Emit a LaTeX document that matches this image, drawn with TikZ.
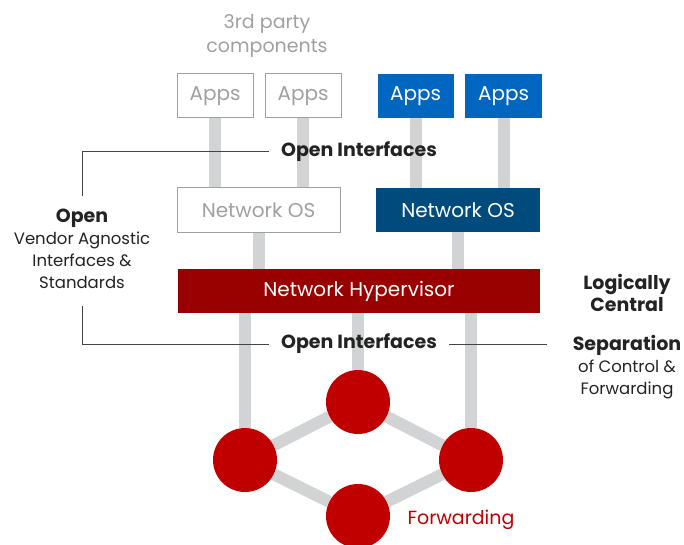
\documentclass[tikz,border=0pt]{standalone}
\usepackage{fontspec}
\setmainfont{Poppins}
\usetikzlibrary{positioning,backgrounds}

\definecolor{appblue}{RGB}{0,102,192}
\definecolor{osblue}{RGB}{0,74,124}
\definecolor{hypred}{RGB}{153,0,0}
\definecolor{fwdred}{RGB}{192,0,0}
\definecolor{bargray}{RGB}{210,211,213}
\definecolor{lighttext}{RGB}{160,160,160}
\definecolor{darktext}{RGB}{35,35,35}

\begin{document}
\begin{tikzpicture}[
  x=1pt, y=-1pt,
  box/.style={minimum height=44pt, inner sep=0pt, font=\fontsize{20}{20}\selectfont},
  thirdbox/.style={box, draw=lighttext, fill=white, text=lighttext, line width=1pt},
  vendorbox/.style={box, fill=#1, text=white},
  bar/.style={draw=bargray, line width=12pt},
  bracket/.style={draw=darktext!85, line width=1pt},
  fnode/.style={circle, fill=fwdred, minimum size=64pt, inner sep=0pt},
  heading/.style={font=\fontsize{19}{22}\selectfont\bfseries, text=darktext, align=center, inner xsep=12pt},
  sidetext/.style={font=\fontsize{16.5}{22}\selectfont, text=darktext, align=center}
]
\useasboundingbox (0,0) rectangle (684,545);

% top row: apps
\node[font=\fontsize{19}{24}\selectfont, text=lighttext, align=center] (party) at (267,36) {3rd party\\components};
\node[thirdbox, minimum width=76pt] (app1) at (215,96) {Apps};
\node[thirdbox, minimum width=76pt, right=11pt of app1] (app2) {Apps};
\node[vendorbox=appblue, minimum width=76pt, right=36pt of app2] (app3) {Apps};
\node[vendorbox=appblue, minimum width=77pt, right=11pt of app3] (app4) {Apps};

% operating systems and hypervisor
\node[thirdbox, minimum width=163pt] (nos1) at (258.5,210) {Network OS};
\node[vendorbox=osblue, minimum width=164pt] (nos2) at (458,210) {Network OS};
\node[vendorbox=hypred, minimum width=362pt] (hyp) at (359,291) {Network Hypervisor};

% forwarding plane
\node[fnode] (ftop) at (358,402) {};
\node[fnode] (fleft) at (245,460) {};
\node[fnode] (fright) at (471,460) {};
\node[fnode] (fbottom) at (358,516) {};
\node[font=\fontsize{19}{19}\selectfont, text=fwdred, anchor=west] (fwd) at (404,520) {Forwarding};

% labels
\node[heading] (oi1) at (359,152) {Open Interfaces};
\node[heading] (oi2) at (359,344) {Open Interfaces};
\node[sidetext] (open) at (82,249) {\textbf{\fontsize{19}{22}\selectfont Open}\\Vendor Agnostic\\Interfaces \&\\Standards};
\node[heading] (central) at (627,293) {Logically\\Central};
\node[sidetext] (sep) at (627,367) {\textbf{\fontsize{19}{22}\selectfont Separation}\\of Control \&\\Forwarding};

% connectors
\begin{scope}[on background layer]
\draw[bar] (app1) -- (app1 |- nos1);
\draw[bar] (app2) -- (app2 |- nos1);
\draw[bar] (app3) -- (app3 |- nos2);
\draw[bar] (app4) -- (app4 |- nos2);
\draw[bar] (nos1) -- (nos1 |- hyp);
\draw[bar] (nos2) -- (nos2 |- hyp);
\draw[bar] (fleft |- hyp) -- (fleft);
\draw[bar] (ftop |- hyp) -- (ftop);
\draw[bar] (fright |- hyp) -- (fright);
\draw[bar] (fleft) -- (ftop) -- (fright) -- (fbottom) -- (fleft);
\end{scope}

\draw[bracket] (oi1.west) -| ([yshift=10pt]open.north);
\draw[bracket] (oi2.west) -| ([yshift=-14pt]open.south);
\draw[bracket, shorten >=22pt] (oi2.east) -- (oi2.east -| sep.west);
\end{tikzpicture}
\end{document}
